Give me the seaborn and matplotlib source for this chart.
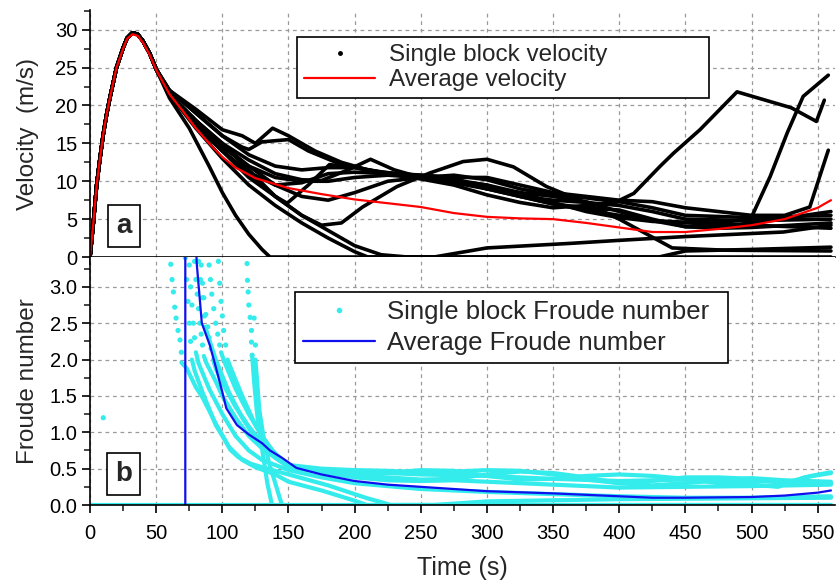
import matplotlib
matplotlib.use("Agg")
import matplotlib.pyplot as plt
from matplotlib.ticker import MultipleLocator, FormatStrFormatter
from matplotlib.lines import Line2D
import pandas as pd
import seaborn as sns

# ---- velocity (panel a) ----
# shared launch phase of all blocks
rise_t = [0, 2.5, 5, 7.5, 10, 12.5, 15, 20, 25, 28, 32, 36, 40, 45, 50]
rise_v = [0, 4.5, 9.5, 13, 16.2, 18.8, 21, 25, 27.6, 28.9, 29.6, 29.4, 28.5, 26.9, 24.8]

b1_t = [60, 75, 90, 100, 110, 120, 130, 136, 560]
b1_v = [21, 17, 12, 8.5, 5.5, 3, 1, 0, 0]
b2_t = [60, 80, 100, 120, 140, 160, 180, 200, 210, 260, 300, 363, 400, 450, 524, 560]
b2_v = [21.5, 17, 13, 9.5, 6.8, 4.5, 2.5, 0.7, 0, 0, 1.2, 1.8, 2.2, 2.7, 3.3, 4.2]
b3_t = [60, 80, 100, 120, 140, 160, 180, 200, 220, 240, 430, 450, 500, 560]
b3_v = [21.5, 17.5, 14, 10.5, 8, 5.5, 3.5, 1.5, 0.3, 0, 0, 0.8, 1.0, 1.3]
b4_t = [60, 80, 100, 120, 140, 160, 175, 190, 206, 232, 257, 282, 300, 320, 345, 370, 400, 440, 480, 560]
b4_v = [21.5, 17.5, 14, 11, 8, 5.5, 4.2, 4.5, 6.6, 9.3, 11.1, 12.6, 12.9, 11.9, 9.3, 7.5, 5, 1.2, 0.9, 0.8]
b5_t = [60, 80, 100, 120, 140, 149, 165, 181, 200, 225, 250, 275, 300, 325, 350, 375, 400, 425, 450, 500, 560]
b5_v = [21.5, 18, 15, 11.5, 8, 7.1, 9.5, 12.2, 11.8, 11, 10.3, 9.5, 8.2, 7.2, 6.5, 6.8, 7.3, 6.5, 5.5, 5.2, 5.5]
b6_t = [60, 80, 100, 115, 125, 138, 150, 170, 190, 210, 230, 250, 275, 300, 325, 350, 375, 400, 425, 450, 500, 560]
b6_v = [22, 19.5, 16.8, 16, 15, 17, 16, 14, 12.5, 11.5, 11, 10.5, 10.2, 9.5, 8.5, 7.2, 6, 5.2, 4.7, 4.5, 4.2, 3.8]
b7_t = [60, 80, 100, 115, 120, 130, 150, 165, 190, 220, 250, 275, 300, 325, 350, 375, 400, 425, 450, 500, 560]
b7_v = [22, 19, 16, 14.5, 14.2, 15.2, 15.5, 14, 12.2, 11.2, 10.8, 10.4, 9, 8, 7.5, 7.2, 6.8, 6, 5, 4.8, 5]
b8_t = [60, 80, 100, 120, 140, 160, 175, 195, 212, 230, 250, 275, 300, 325, 350, 375, 400, 425, 450, 475, 500, 530, 560]
b8_v = [21.5, 18, 15, 12.8, 11, 10.2, 10.1, 11.5, 12.9, 11.5, 10.5, 10, 9.5, 8, 7, 6.5, 6.2, 5, 4, 3.8, 3.9, 4.2, 4.5]
b9_t = [60, 80, 100, 120, 140, 160, 180, 200, 225, 250, 275, 300, 325, 350, 375, 398, 411, 431, 441, 461, 489, 530, 549, 555]
b9_v = [21.5, 18, 14.5, 12, 10.5, 10, 10, 10.5, 10.8, 10.5, 10.8, 10.2, 9, 8.2, 7.8, 7.3, 8.4, 12, 13.7, 16.8, 21.8, 19.7, 17.9, 20.7]
b10_t = [60, 80, 100, 120, 140, 160, 180, 200, 225, 250, 275, 300, 325, 350, 375, 400, 425, 450, 475, 499, 514, 527, 539, 558]
b10_v = [21.5, 17.5, 14, 11.2, 9.5, 9.8, 11, 11.2, 11, 10.5, 9.8, 9, 8, 7, 6.2, 5.5, 4.8, 4.6, 4.6, 4.9, 10.6, 16.4, 21.2, 24]
b11_t = [60, 80, 100, 120, 140, 160, 180, 200, 225, 250, 275, 300, 325, 350, 375, 400, 425, 450, 475, 500, 525, 544, 558]
b11_v = [22, 19, 16, 13.5, 12, 11.5, 11.8, 11.8, 11, 10.8, 10.5, 10.5, 9.5, 8.5, 8, 7.5, 7.3, 6.5, 6, 5.5, 5.5, 6.6, 14.1]
b12_t = [60, 80, 100, 120, 140, 160, 180, 200, 225, 250, 275, 300, 325, 350, 375, 400, 425, 450, 475, 500, 560]
b12_v = [21.5, 18, 14.8, 12, 9.5, 8, 7.5, 8.5, 10, 10.5, 10, 9, 8.5, 8, 7.3, 6, 4.8, 4, 4, 4.5, 6]

avg_v_t = [0, 2.5, 5, 7.5, 10, 12.5, 15, 20, 25, 28, 32, 36, 40, 45, 50, 60, 70, 80, 90, 100, 110, 125,
           150, 175, 200, 225, 250, 275, 300, 325, 350, 375, 400, 425, 450, 475, 500, 525, 550, 560]
avg_v = [0, 4.5, 9.5, 13, 16.2, 18.8, 21, 25, 27.5, 28.8, 29.4, 29.2, 28.3, 26.7, 24.7, 21.5, 19.3, 17, 15,
         13.2, 11.8, 10.4, 9.1, 8.3, 7.6, 7.1, 6.6, 5.8, 5.3, 5.1, 5.0, 4.5, 3.9, 3.3, 3.3, 3.7, 4.2, 5.0,
         6.5, 7.5]

# ---- Froude number (panel b) ----
# steep early parts of single blocks appear as separate dots
dots_t = [10, 61, 62, 63, 64, 65, 66.5, 68, 69,
          72, 73, 74, 75, 76,
          75, 76, 77, 78, 79,
          79, 80, 81, 82, 83, 84, 85,
          82, 83.5, 85, 86.5,
          84, 85, 86, 87.5, 89, 90, 91.5,
          90, 91, 92, 93.5, 95, 96.5, 98,
          97, 98, 99, 100, 101, 102.5,
          118.7, 119, 119.5, 120, 121, 122, 122, 122.5,
          124, 125]
dots_f = [1.2, 3.31, 3.10, 2.93, 2.72, 2.57, 2.40, 2.27, 2.10,
          3.4, 3.1, 2.8, 2.5, 2.25,
          3.3, 3.0, 2.75, 2.5, 2.3,
          3.35, 3.1, 2.9, 2.7, 2.5, 2.35, 2.2,
          3.35, 3.1, 2.85, 2.6,
          3.3, 3.05, 2.85, 2.62, 2.45, 2.3, 2.15,
          3.3, 3.1, 2.9, 2.7, 2.5, 2.35, 2.2,
          3.35, 3.05, 2.8, 2.6, 2.4, 2.2,
          3.32, 3.09, 2.93, 2.75, 2.58, 2.40, 2.24, 2.06,
          2.57, 2.2]

f1_t = [69, 73, 80, 85, 90, 95, 100, 106, 112, 121, 130, 140, 150, 160, 170, 180, 190, 200, 210, 220, 227, 560]
f1_f = [1.96, 1.88, 1.62, 1.48, 1.3, 1.12, 0.96, 0.76, 0.66, 0.57, 0.52, 0.47, 0.42, 0.37, 0.32, 0.27, 0.21, 0.15, 0.09, 0.04, 0, 0]
f2_t = [77, 79, 85, 95, 105, 115, 125, 140, 150, 175, 200, 209, 260, 300, 400, 560]
f2_f = [2.0, 1.85, 1.55, 1.1, 0.8, 0.62, 0.52, 0.42, 0.32, 0.2, 0.06, 0, 0, 0.05, 0.08, 0.1]
f3_t = [80, 82, 90, 100, 110, 120, 130, 140, 150, 175, 200, 225, 250, 275, 300, 350, 400, 450, 500, 560]
f3_f = [2.1, 1.95, 1.6, 1.25, 0.95, 0.75, 0.62, 0.55, 0.48, 0.38, 0.3, 0.26, 0.22, 0.2, 0.18, 0.15, 0.12, 0.1, 0.1, 0.12]
f4_t = [86, 88, 95, 100, 110, 120, 130, 140, 150, 175, 200, 225, 250, 275, 300, 325, 350, 375, 400, 425, 450, 475, 500, 525, 545, 560]
f4_f = [2.05, 1.95, 1.7, 1.5, 1.2, 0.95, 0.78, 0.65, 0.55, 0.5, 0.48, 0.47, 0.45, 0.46, 0.48, 0.47, 0.42, 0.35, 0.3, 0.33, 0.38, 0.38, 0.36, 0.3, 0.4, 0.45]
f5_t = [93, 95, 100, 110, 120, 130, 140, 150, 175, 200, 225, 250, 275, 300, 325, 350, 375, 400, 425, 450, 475, 500, 520, 540, 560]
f5_f = [2.0, 1.88, 1.68, 1.35, 1.08, 0.85, 0.65, 0.52, 0.45, 0.42, 0.44, 0.48, 0.47, 0.4, 0.35, 0.36, 0.4, 0.42, 0.4, 0.36, 0.3, 0.28, 0.25, 0.38, 0.44]
f6_t = [99, 102, 110, 120, 130, 140, 150, 175, 200, 225, 250, 275, 300, 325, 350, 375, 400, 425, 450, 475, 500, 525, 560]
f6_f = [2.1, 1.95, 1.6, 1.25, 0.95, 0.7, 0.55, 0.45, 0.4, 0.38, 0.35, 0.36, 0.42, 0.46, 0.44, 0.38, 0.3, 0.27, 0.3, 0.34, 0.37, 0.34, 0.32]
f7_t = [104, 106, 115, 125, 135, 145, 150, 175, 200, 225, 250, 275, 300, 325, 350, 375, 400, 450, 500, 560]
f7_f = [2.0, 1.9, 1.5, 1.1, 0.8, 0.62, 0.55, 0.45, 0.38, 0.34, 0.33, 0.34, 0.32, 0.3, 0.28, 0.26, 0.24, 0.25, 0.26, 0.28]
f8_t = [122.5, 124, 126, 128, 131, 134, 137.5]
f8_f = [2.06, 1.7, 1.3, 1.0, 0.66, 0.3, 0]
f9_t = [125, 128, 131, 135, 140, 145]
f9_f = [2.0, 1.3, 0.95, 0.6, 0.3, 0]
f10_t = [0, 560]
f10_f = [0, 0]
f11_t = [87, 95, 105, 115, 125, 135, 145, 155, 175, 200, 250, 300, 350, 400, 450, 500, 560]
f11_f = [2.45, 2.0, 1.55, 1.2, 0.92, 0.72, 0.6, 0.52, 0.48, 0.46, 0.42, 0.4, 0.36, 0.33, 0.35, 0.33, 0.3]

avg_f_t = [72, 72, 78, 80.6, 84.5, 90.5, 95, 100, 103, 111, 120, 130, 136, 145, 156, 175, 200, 225,
           250, 300, 350, 400, 425, 450, 500, 525, 550, 560]
avg_f = [0, 10, 5, 3.33, 2.5, 2.2, 1.9, 1.55, 1.33, 1.1, 0.97, 0.85, 0.75, 0.65, 0.51, 0.42, 0.33, 0.28,
         0.25, 0.19, 0.16, 0.12, 0.1, 0.1, 0.11, 0.13, 0.17, 0.2]

vel_blocks = [(b1_t, b1_v), (b2_t, b2_v), (b3_t, b3_v), (b4_t, b4_v), (b5_t, b5_v), (b6_t, b6_v),
              (b7_t, b7_v), (b8_t, b8_v), (b9_t, b9_v), (b10_t, b10_v), (b11_t, b11_v), (b12_t, b12_v)]
fr_blocks = [(f1_t, f1_f), (f2_t, f2_f), (f3_t, f3_f), (f4_t, f4_f), (f5_t, f5_f), (f6_t, f6_f),
             (f7_t, f7_f), (f8_t, f8_f), (f9_t, f9_f), (f10_t, f10_f), (f11_t, f11_f)]

frames = []
for i, (t, v) in enumerate(vel_blocks):
    frames.append(pd.DataFrame({"time": rise_t + t, "value": rise_v + v, "block": i}))
vel_df = pd.concat(frames, ignore_index=True)

frames = []
for i, (t, f) in enumerate(fr_blocks):
    frames.append(pd.DataFrame({"time": t, "value": f, "block": i}))
fr_df = pd.concat(frames, ignore_index=True)

sns.set_theme(style="white")
plt.rcParams["font.family"] = ["Liberation Sans", "DejaVu Sans"]
plt.rcParams["axes.linewidth"] = 1.2

CYAN = "#35ecec"
BLUE = "#1010ee"

fig = plt.figure(figsize=(8.36, 5.86), dpi=100)
ax1 = fig.add_axes([0.1077, 0.5614, 0.8910, 0.4215])
ax2 = fig.add_axes([0.1077, 0.1382, 0.8910, 0.4232])

# panel a
sns.lineplot(data=vel_df, x="time", y="value", units="block", estimator=None, sort=False,
             color="black", lw=2.6, ax=ax1, legend=False)
sns.lineplot(x=avg_v_t, y=avg_v, estimator=None, sort=False, color="red", lw=1.6, ax=ax1)

# panel b
sns.lineplot(data=fr_df, x="time", y="value", units="block", estimator=None, sort=False,
             color=CYAN, lw=3.0, ax=ax2, legend=False)
sns.scatterplot(x=dots_t, y=dots_f, color=CYAN, s=14, edgecolor="none", ax=ax2)
sns.lineplot(x=avg_f_t, y=avg_f, estimator=None, sort=False, color=BLUE, lw=1.6, ax=ax2)

for ax in (ax1, ax2):
    ax.set_xlim(0, 563)
    ax.xaxis.set_major_locator(MultipleLocator(50))
    ax.xaxis.set_minor_locator(MultipleLocator(25))
    ax.grid(True, which="major", color="#9a9a9a", ls=(0, (3, 3)), lw=0.9)
    ax.tick_params(which="major", direction="out", length=6, width=1.2, labelsize=14.5,
                   bottom=True, left=True, pad=3, colors="black")
    ax.tick_params(which="minor", direction="out", length=4, width=1.2, bottom=True, left=True)
    ax.spines["right"].set_visible(False)
    ax.spines["top"].set_visible(False)
    for s in ("left", "bottom"):
        ax.spines[s].set_color("black")
    ax.set_axisbelow(True)

ax1.set_ylim(0, 32.6)
ax1.yaxis.set_major_locator(MultipleLocator(5))
ax1.yaxis.set_minor_locator(MultipleLocator(2.5))
ax1.tick_params(axis="x", labelbottom=False)
ax1.set_xlabel("")
ax1.set_ylabel("Velocity  (m/s)", fontsize=17.5)
ax1.yaxis.set_label_coords(-0.068, 0.5)

ax2.set_ylim(0, 3.41)
ax2.yaxis.set_major_locator(MultipleLocator(0.5))
ax2.yaxis.set_minor_locator(MultipleLocator(0.25))
ax2.yaxis.set_major_formatter(FormatStrFormatter("%.1f"))
ax2.tick_params(axis="x", pad=8)
ax2.set_ylabel("Froude number", fontsize=17.5)
ax2.yaxis.set_label_coords(-0.068, 0.5)
ax2.set_xlabel("Time (s)", fontsize=18, labelpad=9)

h1 = [Line2D([], [], marker=".", ls="none", color="black", markersize=5),
      Line2D([], [], color="red", lw=1.6)]
leg1 = ax1.legend(h1, ["Single block velocity", "Average velocity"], loc="upper left",
                  bbox_to_anchor=(0.278, 0.3, 0.553, 0.591), mode="expand", fontsize=17.5,
                  frameon=True, fancybox=False, edgecolor="black", framealpha=1,
                  handlelength=2.9, handletextpad=0.6, labelspacing=0.12, borderpad=0.3,
                  borderaxespad=0)
leg1.get_frame().set_linewidth(1.2)

h2 = [Line2D([], [], marker=".", ls="none", color=CYAN, markersize=6),
      Line2D([], [], color=BLUE, lw=1.6)]
leg2 = ax2.legend(h2, ["Single block Froude number", "Average Froude number"], loc="upper left",
                  bbox_to_anchor=(0.275, 0.3, 0.581, 0.559), mode="expand", fontsize=18.5,
                  frameon=True, fancybox=False, edgecolor="black", framealpha=1,
                  handlelength=2.8, handletextpad=0.5, labelspacing=0.3, borderpad=0.3,
                  borderaxespad=0)
leg2.get_frame().set_linewidth(1.2)

for ax, lab in ((ax1, "a"), (ax2, "b")):
    ax.text(0.045, 0.125, lab, transform=ax.transAxes, fontsize=20, fontweight="bold",
            ha="center", va="center",
            bbox=dict(boxstyle="square,pad=0.3", fc="white", ec="black", lw=1.2))

fig.savefig("out.png", dpi=100)
